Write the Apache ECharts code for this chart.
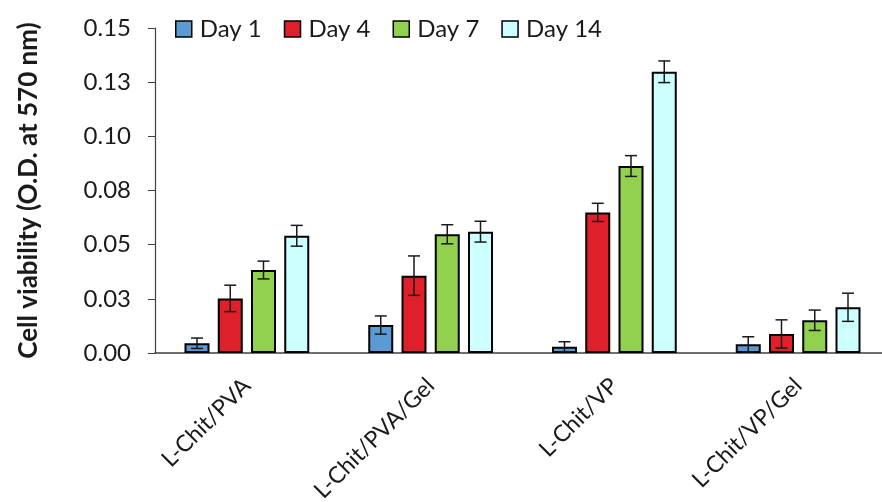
<!DOCTYPE html>
<html>
<head>
<meta charset="utf-8">
<script src="https://cdn.jsdelivr.net/npm/echarts@6/dist/echarts.min.js"></script>
<style>
  html, body { margin: 0; padding: 0; background: #fff; }
  #chart { width: 882px; height: 502px; }
</style>
</head>
<body>
<div id="chart"></div>
<script>
// Samples on the category axis
const categories = ['L-Chit/PVA', 'L-Chit/PVA/Gel', 'L-Chit/VP', 'L-Chit/VP/Gel'];

// Mean optical density per time point
const day1  = [0.0045, 0.0129, 0.0029, 0.0040];
const day4  = [0.0252, 0.0357, 0.0649, 0.0088];
const day7  = [0.0383, 0.0548, 0.0863, 0.0151];
const day14 = [0.0541, 0.0560, 0.1298, 0.0211];

// Standard deviations (error bar half-lengths)
const day1Err  = [0.0024, 0.0042, 0.0023, 0.0035];
const day4Err  = [0.0061, 0.0091, 0.0042, 0.0065];
const day7Err  = [0.0041, 0.0044, 0.0048, 0.0047];
const day14Err = [0.0048, 0.0048, 0.0050, 0.0065];

const seriesNames = ['Day 1', 'Day 4', 'Day 7', 'Day 14'];
const seriesColors = ['#5B9BD5', '#DF1F2A', '#92D050', '#CCFFFF'];
const yTickLabels = ['0.00', '0.03', '0.05', '0.08', '0.10', '0.13', '0.15'];

const means = [day1, day4, day7, day14];
const errs = [day1Err, day4Err, day7Err, day14Err];

const FONT = 'Lato, "Open Sans", sans-serif';
const BAR_W = 25;
const BAR_GAP = 0.33;

const chart = echarts.init(document.getElementById('chart'), null, { renderer: 'canvas' });

const barSeries = seriesNames.map((name, i) => ({
  name: name,
  type: 'bar',
  data: means[i],
  barWidth: BAR_W,
  barGap: (BAR_GAP * 100) + '%',
  barCategoryGap: '32%',
  itemStyle: { color: seriesColors[i], borderColor: '#000', borderWidth: 2 },
  z: 2
}));

// Error bars: vertical whisker with caps, positioned over each bar in the group
const errorSeries = seriesNames.map((name, i) => ({
  type: 'custom',
  name: name + ' err',
  z: 5,
  data: means[i].map((m, k) => [k, m - errs[i][k], m + errs[i][k]]),
  renderItem: function (params, api) {
    const k = api.value(0);
    const lo = api.coord([k, api.value(1)]);
    const hi = api.coord([k, api.value(2)]);
    const step = BAR_W * (1 + BAR_GAP);
    const x = lo[0] + (i - 1.5) * step;
    const cap = 6;
    const style = { stroke: '#1a1a1a', lineWidth: 1.5 };
    return {
      type: 'group',
      children: [
        { type: 'line', shape: { x1: x, y1: lo[1], x2: x, y2: hi[1] }, style: style },
        { type: 'line', shape: { x1: x - cap, y1: hi[1], x2: x + cap, y2: hi[1] }, style: style },
        { type: 'line', shape: { x1: x - cap, y1: lo[1], x2: x + cap, y2: lo[1] }, style: style }
      ]
    };
  }
}));

chart.setOption({
  animation: false,
  backgroundColor: '#fff',
  textStyle: { fontFamily: FONT },
  legend: {
    data: seriesNames,
    left: 170,
    top: 12,
    icon: 'rect',
    itemWidth: 16,
    itemHeight: 16,
    itemGap: 22,
    itemStyle: { borderColor: '#000', borderWidth: 1.5 },
    textStyle: { fontSize: 24, color: '#1a1a1a', fontFamily: FONT, padding: [0, 0, 0, 3] }
  },
  grid: { left: 155, top: 28, height: 325, width: 735, containLabel: false, outerBoundsMode: 'none' },
  xAxis: {
    type: 'category',
    data: categories,
    axisLine: { lineStyle: { color: '#404040', width: 1.5 } },
    axisTick: { show: false },
    axisLabel: { rotate: 45, fontSize: 23, color: '#1a1a1a', margin: 29, fontFamily: FONT }
  },
  yAxis: {
    type: 'value',
    min: 0,
    max: 0.15,
    interval: 0.025,
    name: 'Cell viability (O.D. at 570 nm)',
    nameLocation: 'middle',
    nameGap: 113,
    nameTextStyle: { fontSize: 26, fontWeight: 'bold', color: '#1a1a1a', fontFamily: FONT },
    splitLine: { show: false },
    axisLine: { show: true, lineStyle: { color: '#404040', width: 1.2 } },
    axisTick: { show: true, inside: false, length: 7, lineStyle: { color: '#404040' } },
    axisLabel: {
      fontSize: 24, color: '#1a1a1a', margin: 24, fontFamily: FONT,
      formatter: function (v, idx) { return yTickLabels[idx]; }
    }
  },
  series: barSeries.concat(errorSeries)
});
</script>
</body>
</html>
